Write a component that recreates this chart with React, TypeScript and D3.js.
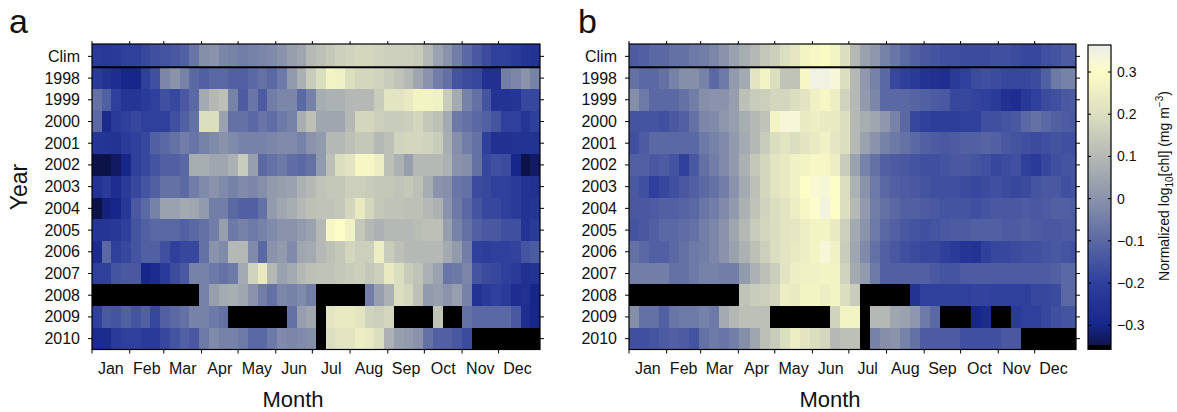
import * as d3 from "d3";

const N = null;

const rowLabels = ["Clim", "1998", "1999", "2000", "2001", "2002", "2003", "2004", "2005", "2006", "2007", "2008", "2009", "2010"];
const monthLabels = ["Jan", "Feb", "Mar", "Apr", "May", "Jun", "Jul", "Aug", "Sep", "Oct", "Nov", "Dec"];
const monthStarts = [0, 31, 59, 90, 120, 151, 181, 212, 243, 273, 304, 334, 365];
const daysShown = 368; // 46 eight-day composites
const colorTicks = [-0.3, -0.2, -0.1, 0, 0.1, 0.2, 0.3];
const colorDomain = [-0.357, 0.364];
const missingBand = -0.347; // bottom of the colour bar is the black missing-data colour

// colormap stops (value -> colour)
const cmapStops = [-0.357, -0.3, -0.2, -0.1, 0, 0.1, 0.2, 0.3, 0.364];
const cmapColors = ["#0b1040", "#17268a", "#2f3f9c", "#5a68a4", "#8a93ab", "#b4b9b5", "#dcdec0", "#fdfdc6", "#ededed"];

// panel a: rows Clim, 1998 ... 2010, 46 eight-day periods each
const valuesA: (number | null)[][] = [
  [-0.22, -0.23, -0.22, -0.2, -0.2, -0.18, -0.16, -0.15, -0.14, -0.12, -0.07, -0.01, 0, -0.03, -0.04, -0.05, -0.04, -0.03, -0.02, 0, 0.03, 0.05, 0.1, 0.12, 0.14, 0.16, 0.17, 0.18, 0.18, 0.17, 0.16, 0.16, 0.16, 0.15, 0.1, 0.04, 0, -0.05, -0.1, -0.14, -0.17, -0.2, -0.2, -0.22, -0.24, -0.25],
  [-0.22, -0.25, -0.27, -0.3, -0.3, -0.2, -0.16, -0.03, 0, -0.04, -0.1, -0.12, -0.1, -0.1, -0.12, -0.12, -0.1, -0.08, -0.1, -0.06, 0.02, 0.08, 0.15, 0.2, 0.27, 0.26, 0.2, 0.18, 0.18, 0.17, 0.15, 0.13, 0.1, 0.05, 0, -0.05, -0.08, -0.15, -0.17, -0.18, -0.26, -0.26, -0.05, -0.03, 0, -0.04],
  [-0.08, -0.12, -0.2, -0.24, -0.24, -0.22, -0.2, -0.16, -0.18, -0.14, -0.1, 0.06, 0.1, 0.12, -0.04, -0.13, -0.07, -0.13, -0.05, -0.03, -0.03, -0.1, -0.04, 0.07, 0.08, 0.08, 0.1, 0.1, 0.1, 0.15, 0.22, 0.22, 0.24, 0.27, 0.27, 0.26, 0.15, 0.06, -0.04, -0.08, -0.15, -0.25, -0.25, -0.24, -0.18, -0.18],
  [-0.1, -0.28, -0.22, -0.2, -0.18, -0.2, -0.2, -0.2, -0.16, -0.12, -0.08, 0.2, 0.2, 0.04, -0.08, -0.08, -0.1, -0.07, -0.09, -0.06, -0.04, 0.07, 0.12, 0.05, 0.05, 0.05, 0.1, 0.18, 0.18, 0.16, 0.15, 0.15, 0.16, 0.18, 0.14, 0.12, 0.06, -0.06, -0.08, -0.1, -0.12, -0.15, -0.2, -0.2, -0.24, -0.2],
  [-0.24, -0.24, -0.25, -0.22, -0.2, -0.18, -0.12, -0.1, -0.08, -0.05, -0.07, -0.04, -0.02, 0, -0.02, -0.04, -0.04, -0.04, -0.03, -0.02, -0.02, -0.04, 0, 0.02, 0.1, 0.1, 0.12, 0.14, 0.14, 0.1, 0.12, 0.17, 0.18, 0.18, 0.17, 0.15, 0.07, -0.01, -0.05, -0.08, -0.2, -0.26, -0.26, -0.25, -0.25, -0.25],
  [-0.35, -0.35, -0.33, -0.3, -0.2, -0.18, -0.15, -0.12, -0.12, -0.1, 0.07, 0.07, 0.05, 0.05, 0.08, 0.15, 0.03, -0.1, -0.08, -0.06, -0.09, -0.1, -0.08, 0.02, 0.12, 0.2, 0.22, 0.28, 0.28, 0.25, 0.12, 0.08, 0.03, 0.1, 0.1, 0.1, 0.08, 0, -0.01, -0.08, -0.18, -0.16, -0.17, -0.3, -0.35, -0.33],
  [-0.25, -0.22, -0.27, -0.22, -0.18, -0.15, -0.12, -0.08, -0.08, -0.1, -0.05, -0.02, 0, -0.02, -0.04, -0.02, -0.03, -0.01, 0.02, 0.03, 0.04, 0.08, 0.1, 0.13, 0.14, 0.14, 0.16, 0.16, 0.15, 0.14, 0.14, 0.13, 0.14, 0.12, 0.07, 0, -0.01, -0.07, -0.08, -0.17, -0.18, -0.2, -0.2, -0.22, -0.25, -0.26],
  [-0.35, -0.31, -0.3, -0.23, -0.14, -0.1, -0.04, 0.04, 0.04, 0.06, 0.05, 0.02, -0.05, -0.05, -0.1, -0.12, -0.12, -0.08, 0.02, 0.05, 0.07, 0.1, 0.12, 0.13, 0.13, 0.14, 0.18, 0.24, 0.18, 0.14, 0.13, 0.13, 0.12, 0.12, 0.1, 0.08, 0, -0.06, -0.1, -0.15, -0.18, -0.18, -0.2, -0.22, -0.25, -0.24],
  [-0.24, -0.24, -0.23, -0.2, -0.15, -0.12, -0.1, -0.1, -0.1, -0.12, -0.1, -0.08, -0.05, 0.03, -0.06, -0.04, -0.06, -0.04, -0.02, 0, 0, 0.02, 0.04, 0.1, 0.28, 0.3, 0.26, 0.14, 0.1, 0.08, 0.1, 0.1, 0.1, 0.11, 0.12, 0.12, 0.03, -0.04, -0.08, -0.12, -0.14, -0.14, -0.16, -0.16, -0.25, -0.22],
  [-0.28, -0.1, -0.2, -0.18, -0.15, -0.12, -0.12, -0.16, -0.2, -0.18, -0.18, -0.08, 0, -0.02, 0.1, 0.1, -0.02, -0.1, 0, 0.02, -0.02, 0.05, 0.06, 0.1, 0.12, 0.14, 0.18, 0.16, 0.16, 0.25, 0.15, 0.12, 0.1, 0.1, 0.1, 0.1, 0.06, 0.02, -0.05, -0.2, -0.21, -0.2, -0.2, -0.19, -0.15, -0.13],
  [-0.2, -0.2, -0.15, -0.14, -0.14, -0.3, -0.28, -0.22, -0.17, -0.14, -0.04, -0.04, -0.06, -0.08, -0.06, 0.06, 0.17, 0.24, 0.1, 0.04, 0.06, 0.1, 0.12, 0.13, 0.13, 0.14, 0.15, 0.16, 0.14, 0.16, 0.24, 0.2, 0.15, 0.13, 0.08, 0.04, -0.07, -0.06, -0.03, -0.15, -0.17, -0.18, -0.2, -0.22, -0.26, -0.25],
  [N, N, N, N, N, N, N, N, N, N, N, -0.04, 0.03, 0.06, 0.07, 0.05, 0, -0.05, -0.08, -0.03, -0.04, -0.02, -0.05, N, N, N, N, N, -0.05, 0.03, 0.08, 0.2, 0.18, 0.12, 0.02, 0.03, 0, 0.03, -0.04, -0.25, -0.22, -0.2, -0.22, -0.27, -0.26, -0.3],
  [-0.2, -0.14, -0.15, -0.12, -0.15, -0.12, -0.18, -0.12, -0.1, -0.08, -0.04, -0.04, -0.06, -0.08, N, N, N, N, N, N, -0.08, 0.03, 0.05, N, 0.22, 0.24, 0.24, 0.22, 0.17, 0.16, 0.18, N, N, N, N, 0.13, N, N, -0.08, -0.1, -0.1, -0.1, -0.1, -0.14, -0.27, -0.3],
  [-0.28, -0.28, -0.22, -0.2, -0.2, -0.22, -0.22, -0.18, -0.15, -0.12, -0.14, -0.06, -0.02, -0.04, -0.04, -0.06, -0.1, -0.1, -0.06, -0.02, -0.03, -0.02, -0.01, N, 0.2, 0.22, 0.22, 0.25, 0.24, 0.2, 0.08, 0.03, 0.02, 0, -0.08, -0.12, -0.12, -0.14, -0.17, N, N, N, N, N, N, N],
];

// panel b: rows Clim, 1998 ... 2010, periods visible inside the frame
const valuesB: (number | null)[][] = [
  [-0.13, -0.12, -0.1, -0.1, -0.08, -0.08, -0.06, -0.05, -0.03, 0, 0.04, 0.07, 0.1, 0.14, 0.16, 0.2, 0.23, 0.27, 0.28, 0.29, 0.27, 0.2, 0.1, 0.04, 0.01, -0.04, -0.07, -0.1, -0.12, -0.14, -0.15, -0.16, -0.16, -0.17, -0.17, -0.17, -0.16, -0.16, -0.17, -0.18, -0.18, -0.16, -0.15, -0.13, -0.13],
  [-0.08, -0.1, -0.1, -0.08, -0.04, -0.01, -0.01, -0.04, -0.1, -0.06, 0.02, 0.06, 0.22, 0.27, 0.2, 0.13, 0.13, 0.28, 0.35, 0.35, 0.33, 0.2, 0.1, 0.01, -0.04, -0.1, -0.18, -0.2, -0.22, -0.25, -0.26, -0.27, -0.22, -0.2, -0.17, -0.16, -0.17, -0.18, -0.18, -0.18, -0.17, -0.12, -0.06, -0.04, -0.04],
  [-0.01, -0.06, -0.1, -0.1, -0.1, -0.08, -0.05, -0.01, 0, 0, 0.03, 0.12, 0.15, 0.16, 0.18, 0.18, 0.2, 0.22, 0.26, 0.28, 0.25, 0.17, 0.1, 0.02, -0.03, -0.1, -0.1, -0.1, -0.11, -0.12, -0.13, -0.14, -0.18, -0.18, -0.19, -0.2, -0.22, -0.26, -0.27, -0.23, -0.2, -0.17, -0.16, -0.14, -0.13],
  [-0.15, -0.15, -0.15, -0.16, -0.14, -0.12, -0.08, -0.03, -0.02, 0.01, 0.03, 0.07, 0.1, 0.13, 0.27, 0.33, 0.33, 0.24, 0.25, 0.24, 0.24, 0.2, 0.1, 0.07, 0.05, 0.01, -0.04, -0.1, -0.18, -0.2, -0.21, -0.21, -0.21, -0.2, -0.2, -0.16, -0.16, -0.15, -0.14, -0.1, -0.08, -0.1, -0.12, -0.13, -0.14],
  [-0.16, -0.13, -0.1, -0.1, -0.1, -0.1, -0.1, -0.06, -0.04, -0.02, 0.02, 0.06, 0.1, 0.15, 0.2, 0.22, 0.2, 0.22, 0.24, 0.26, 0.23, 0.2, 0.1, 0.04, 0, -0.04, -0.06, -0.08, -0.1, -0.12, -0.13, -0.14, -0.13, -0.12, -0.12, -0.11, -0.12, -0.14, -0.15, -0.16, -0.17, -0.16, -0.15, -0.16, -0.16],
  [-0.12, -0.12, -0.14, -0.13, -0.15, -0.2, -0.14, -0.08, -0.05, -0.02, 0.02, 0.08, 0.14, 0.18, 0.22, 0.24, 0.26, 0.27, 0.28, 0.28, 0.25, 0.15, 0.04, -0.04, -0.08, -0.12, -0.13, -0.14, -0.15, -0.16, -0.16, -0.15, -0.14, -0.14, -0.15, -0.16, -0.18, -0.17, -0.16, -0.2, -0.22, -0.18, -0.16, -0.15, -0.15],
  [-0.14, -0.16, -0.2, -0.18, -0.16, -0.14, -0.12, -0.1, -0.08, -0.05, 0, 0.06, 0.12, 0.18, 0.22, 0.24, 0.26, 0.3, 0.32, 0.33, 0.3, 0.2, 0.08, 0, -0.06, -0.1, -0.12, -0.13, -0.14, -0.15, -0.16, -0.16, -0.16, -0.17, -0.18, -0.17, -0.16, -0.17, -0.18, -0.17, -0.15, -0.14, -0.14, -0.16, -0.15],
  [-0.14, -0.14, -0.13, -0.12, -0.12, -0.11, -0.1, -0.07, -0.05, -0.02, 0.02, 0.08, 0.13, 0.17, 0.2, 0.22, 0.25, 0.28, 0.31, 0.34, 0.3, 0.2, 0.1, 0.02, -0.05, -0.08, -0.1, -0.12, -0.12, -0.13, -0.14, -0.15, -0.15, -0.15, -0.16, -0.15, -0.14, -0.14, -0.14, -0.13, -0.14, -0.13, -0.12, -0.12, -0.13],
  [-0.15, -0.14, -0.12, -0.1, -0.1, -0.09, -0.08, -0.05, -0.03, 0, 0.05, 0.1, 0.15, 0.18, 0.2, 0.22, 0.23, 0.25, 0.27, 0.27, 0.24, 0.16, 0.06, 0, -0.06, -0.1, -0.12, -0.14, -0.15, -0.16, -0.15, -0.14, -0.13, -0.13, -0.12, -0.12, -0.12, -0.13, -0.13, -0.12, -0.13, -0.14, -0.14, -0.13, -0.13],
  [-0.08, -0.1, -0.12, -0.12, -0.1, -0.08, -0.06, -0.05, -0.03, 0, 0.04, 0.08, 0.12, 0.16, 0.2, 0.22, 0.24, 0.25, 0.27, 0.33, 0.26, 0.15, 0.05, -0.02, -0.08, -0.12, -0.14, -0.16, -0.17, -0.18, -0.18, -0.2, -0.22, -0.24, -0.25, -0.2, -0.18, -0.18, -0.17, -0.16, -0.16, -0.15, -0.14, -0.15, -0.16],
  [-0.05, -0.05, -0.05, -0.05, -0.08, -0.08, -0.06, -0.04, -0.04, -0.05, -0.05, 0.02, 0.08, 0.12, 0.16, 0.22, 0.25, 0.26, 0.26, 0.27, 0.27, 0.17, 0.06, 0.02, -0.06, -0.12, -0.12, -0.12, -0.12, -0.12, -0.14, -0.15, -0.15, -0.13, -0.13, -0.13, -0.13, -0.13, -0.13, -0.13, -0.13, -0.13, -0.12, -0.1, -0.1],
  [N, N, N, N, N, N, N, N, N, N, N, 0.13, 0.15, 0.16, 0.18, 0.25, 0.24, 0.27, 0.27, 0.25, 0.27, 0.2, 0.15, N, N, N, N, N, -0.25, -0.2, -0.2, -0.2, -0.2, -0.2, -0.19, -0.19, -0.2, -0.2, -0.2, -0.2, -0.18, -0.18, -0.17, -0.1, -0.1],
  [-0.01, -0.08, -0.08, -0.12, -0.07, -0.06, -0.06, -0.04, -0.06, 0.06, 0.1, 0.12, 0.12, 0.12, N, N, N, N, N, N, 0.17, 0.27, 0.27, N, 0.1, 0.1, 0.05, 0.04, 0.01, -0.06, -0.1, N, N, N, -0.3, -0.28, N, N, -0.22, -0.2, -0.2, -0.18, -0.16, -0.15, -0.15],
  [-0.16, -0.16, -0.15, -0.13, -0.12, -0.13, -0.15, -0.08, -0.06, -0.07, -0.05, -0.01, 0.05, 0.12, 0.15, 0.2, 0.25, 0.22, 0.2, 0.18, 0.1, 0.12, 0.12, N, -0.04, -0.01, 0, -0.04, -0.08, -0.13, -0.13, -0.13, -0.13, -0.16, -0.16, -0.16, -0.16, -0.14, -0.14, N, N, N, N, N, N],
];

const FONT = "'Liberation Sans', Arial, Helvetica, sans-serif";
const TOP = 44;
const BOTTOM = 349.5;

const color = d3
  .scaleLinear<string>()
  .domain(cmapStops)
  .range(cmapColors)
  .interpolate(d3.interpolateRgb)
  .clamp(true);

const cellColor = (v: number | null) => (v === null ? "#000" : color(v));

type PanelProps = {
  id: string;
  values: (number | null)[][];
  left: number;
  right: number;
  colSpan: number;
  showYearTitle: boolean;
};

function Panel({ id, values, left, right, colSpan, showYearTitle }: PanelProps) {
  const day = d3.scaleLinear().domain([0, daysShown]).range([left, right]);
  const col = d3.scaleLinear().domain([0, colSpan]).range([left, right]);
  const row = d3.scaleBand<string>().domain(rowLabels).range([45.5, BOTTOM]);
  const rowH = row.bandwidth();
  const sepY = row("1998")!;

  return (
    <g>
      <clipPath id={`clip-${id}`}>
        <rect x={left} y={TOP} width={right - left} height={BOTTOM - TOP} />
      </clipPath>
      <g clipPath={`url(#clip-${id})`} shapeRendering="crispEdges">
        {values.map((r, ri) =>
          r.map((v, ci) => {
            const y0 = ri === 0 ? TOP : row(rowLabels[ri])!;
            const y1 = row(rowLabels[ri])! + rowH;
            return (
              <rect
                key={`${ri}-${ci}`}
                x={col(ci)}
                y={y0}
                width={col(ci + 1) - col(ci) + 1}
                height={y1 - y0 + 1}
                fill={cellColor(v)}
              />
            );
          })
        )}
      </g>
      <line x1={left} x2={right} y1={sepY} y2={sepY} stroke="#000" strokeWidth={2} />
      <rect x={left} y={TOP} width={right - left} height={BOTTOM - TOP} fill="none" stroke="#000" strokeWidth={1.2} />

      {rowLabels.map((lab) => {
        const cy = row(lab)! + rowH / 2;
        return (
          <g key={lab}>
            <line x1={left - 4} x2={left} y1={cy} y2={cy} stroke="#000" />
            <line x1={right} x2={right + 4} y1={cy} y2={cy} stroke="#000" />
            <text x={left - 12} y={cy + 5.5} textAnchor="end" fontSize={16} fontFamily={FONT} fill="#111">
              {lab}
            </text>
          </g>
        );
      })}

      {monthStarts.slice(0, 12).map((d, i) => (
        <g key={d}>
          <line x1={day(d)} x2={day(d)} y1={TOP - 3} y2={TOP} stroke="#000" />
          <line x1={day(d)} x2={day(d)} y1={BOTTOM} y2={BOTTOM + 4} stroke="#000" />
          <text
            x={day((d + monthStarts[i + 1]) / 2)}
            y={374}
            textAnchor="middle"
            fontSize={16}
            fontFamily={FONT}
            fill="#111"
          >
            {monthLabels[i]}
          </text>
        </g>
      ))}

      <text x={left + 201} y={407} textAnchor="middle" fontSize={22} fontFamily={FONT} fill="#111">
        Month
      </text>
      {showYearTitle && (
        <text transform={`translate(27,187) rotate(-90)`} textAnchor="middle" fontSize={23} fontFamily={FONT} fill="#111">
          Year
        </text>
      )}
    </g>
  );
}

function ColorBar() {
  const x0 = 1088;
  const x1 = 1111;
  const y = d3.scaleLinear().domain(colorDomain).range([349.3, 45]);
  const span = colorDomain[1] - colorDomain[0];
  return (
    <g>
      <defs>
        <linearGradient id="cbar" x1="0" y1="1" x2="0" y2="0">
          {cmapStops.map((v, i) => (
            <stop key={v} offset={(v - colorDomain[0]) / span} stopColor={cmapColors[i]} />
          ))}
        </linearGradient>
      </defs>
      <rect x={x0} y={y(colorDomain[1])} width={x1 - x0} height={y(colorDomain[0]) - y(colorDomain[1])} fill="url(#cbar)" />
      <rect x={x0} y={y(missingBand)} width={x1 - x0} height={y(colorDomain[0]) - y(missingBand)} fill="#000" />
      <rect x={x0} y={y(colorDomain[1])} width={x1 - x0} height={y(colorDomain[0]) - y(colorDomain[1])} fill="none" stroke="#000" strokeWidth={1.2} />
      {colorTicks.map((t) => (
        <g key={t}>
          <line x1={x0} x2={x0 + 3} y1={y(t)} y2={y(t)} stroke="#000" />
          <line x1={x1 - 3} x2={x1} y1={y(t)} y2={y(t)} stroke="#000" />
          <text x={1117} y={y(t) + 5} fontSize={14} fontFamily={FONT} fill="#111">
            {t < 0 ? `\u2212${Math.abs(t)}` : String(t)}
          </text>
        </g>
      ))}
      <text transform="translate(1169,186) rotate(-90)" textAnchor="middle" fontSize={14} fontFamily={FONT} fill="#111">
        Normalized log
        <tspan fontSize={10} dy={4}>10</tspan>
        <tspan dy={-4}>[chl] (mg m</tspan>
        <tspan fontSize={10} dy={-6}>{"\u22123"}</tspan>
        <tspan dy={6}>)</tspan>
      </text>
    </g>
  );
}

export default function App() {
  return (
    <svg width={1177} height={412} style={{ position: "absolute", left: 0, top: 0, background: "#fff" }}>
      <rect width={1177} height={412} fill="#fff" />
      <text x={9} y={33} fontSize={34} fontFamily={FONT} fill="#111">a</text>
      <text x={578} y={33} fontSize={34} fontFamily={FONT} fill="#111">b</text>
      <Panel id="a" values={valuesA} left={92} right={540} colSpan={46} showYearTitle={true} />
      <Panel id="b" values={valuesB} left={629} right={1076} colSpan={44.5} showYearTitle={false} />
      <ColorBar />
    </svg>
  );
}
